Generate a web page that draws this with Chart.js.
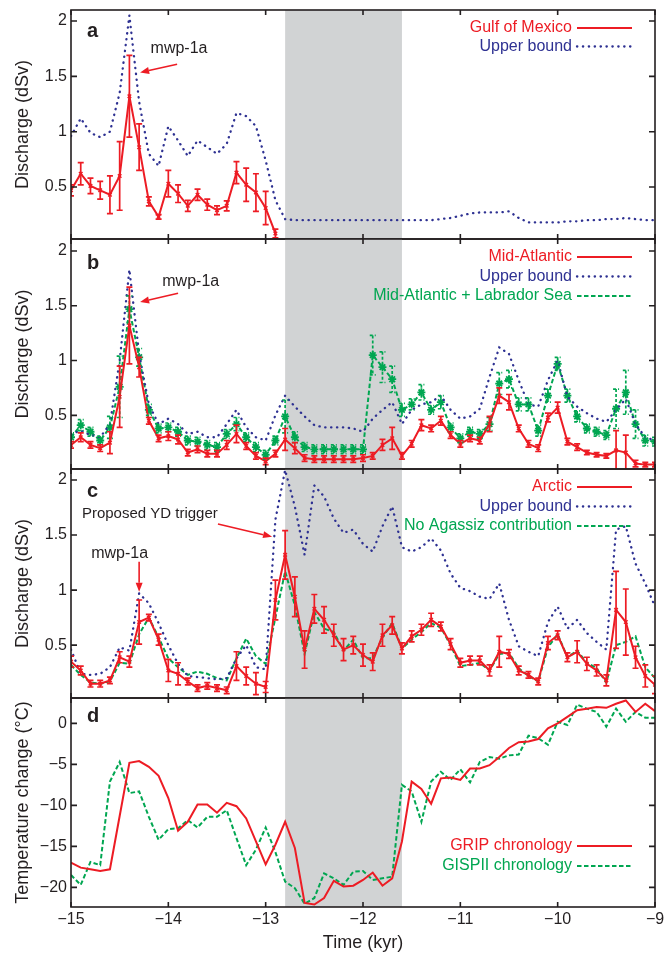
<!DOCTYPE html>
<html>
<head>
<meta charset="utf-8">
<script src="https://cdn.jsdelivr.net/npm/chart.js@4.4.1/dist/chart.umd.min.js"></script>
<style>
  body { margin: 0; background: #fff; }
  #wrap { position: relative; width: 665px; height: 955px; }
  canvas { position: absolute; left: 0; }
</style>
</head>
<body>
<div id="wrap">
  <canvas id="panelA" width="665" height="249" style="top:0px"></canvas>
  <canvas id="panelB" width="665" height="250" style="top:229px"></canvas>
  <canvas id="panelC" width="665" height="249" style="top:459px"></canvas>
  <canvas id="panelD" width="665" height="267" style="top:688px"></canvas>
</div>
<script>
// time axis (kyr), one value every 0.1 kyr
const years = [
  -15.0, -14.9, -14.8, -14.7, -14.6, -14.5, -14.4, -14.3, -14.2, -14.1,
  -14.0, -13.9, -13.8, -13.7, -13.6, -13.5, -13.4, -13.3, -13.2, -13.1,
  -13.0, -12.9, -12.8, -12.7, -12.6, -12.5, -12.4, -12.3, -12.2, -12.1,
  -12.0, -11.9, -11.8, -11.7, -11.6, -11.5, -11.4, -11.3, -11.2, -11.1,
  -11.0, -10.9, -10.8, -10.7, -10.6, -10.5, -10.4, -10.3, -10.2, -10.1,
  -10.0, -9.9, -9.8, -9.7, -9.6, -9.5, -9.4, -9.3, -9.2, -9.1,
  -9.0
];
const xTicks = [-15, -14, -13, -12, -11, -10, -9];
const dischargeTicks = [0.5, 1, 1.5, 2];
const tempTicks = [0, -5, -10, -15, -20];
const ydBand = [-12.8, -11.6];

// panel a: Gulf of Mexico
const aGulf = [
  0.47, 0.62, 0.51, 0.47, 0.43, 0.60, 1.32, 0.86, 0.37, 0.23,
  0.53, 0.44, 0.33, 0.43, 0.34, 0.29, 0.33, 0.63, 0.52, 0.45,
  0.31, 0.08
];
const aGulfErr = [
  0.05, 0.10, 0.07, 0.08, 0.17, 0.31, 0.37, 0.21, 0.04, 0.02,
  0.12, 0.08, 0.05, 0.05, 0.05, 0.04, 0.045, 0.10, 0.15, 0.17,
  0.15, 0.04
];
const aUpper = [
  0.96, 1.12, 0.99, 0.95, 1.00, 1.35, 2.05, 1.27, 0.80, 0.69,
  1.05, 0.92, 0.78, 0.92, 0.86, 0.80, 0.89, 1.17, 1.14, 1.05,
  0.74, 0.38, 0.21, 0.20, 0.20, 0.20, 0.20, 0.20, 0.20, 0.20,
  0.20, 0.20, 0.20, 0.20, 0.20, 0.20, 0.20, 0.20, 0.21, 0.22,
  0.24, 0.26, 0.27, 0.27, 0.27, 0.28, 0.22, 0.18, 0.18, 0.18,
  0.18, 0.19, 0.19, 0.20, 0.20, 0.21, 0.21, 0.22, 0.21, 0.20,
  0.20
];

// panel b: Mid-Atlantic
const bRed = [
  0.23, 0.30, 0.23, 0.20, 0.25, 0.67, 1.32, 0.94, 0.45, 0.29,
  0.31, 0.28, 0.16, 0.19, 0.15, 0.15, 0.23, 0.33, 0.22, 0.13,
  0.08, 0.15, 0.28, 0.20, 0.11, 0.10, 0.10, 0.10, 0.10, 0.10,
  0.11, 0.13, 0.23, 0.29, 0.13, 0.24, 0.41, 0.38, 0.45, 0.32,
  0.24, 0.29, 0.27, 0.42, 0.68, 0.62, 0.38, 0.24, 0.20, 0.48,
  0.57, 0.26, 0.21, 0.16, 0.14, 0.13, 0.18, 0.16, 0.06, 0.05,
  0.05
];
const bRedErr = [
  0.03, 0.04, 0.03, 0.03, 0.10, 0.28, 0.35, 0.09, 0.03, 0.03,
  0.04, 0.04, 0.03, 0.03, 0.03, 0.03, 0.04, 0.08, 0.03, 0.03,
  0.03, 0.03, 0.10, 0.05, 0.03, 0.03, 0.03, 0.03, 0.03, 0.03,
  0.03, 0.03, 0.05, 0.10, 0.03, 0.03, 0.05, 0.03, 0.04, 0.03,
  0.03, 0.03, 0.03, 0.07, 0.07, 0.07, 0.03, 0.03, 0.03, 0.04,
  0.05, 0.03, 0.03, 0.02, 0.02, 0.02, 0.18, 0.16, 0.03, 0.02,
  0.02
];
const bUpper = [
  0.33, 0.36, 0.32, 0.30, 0.42, 1.00, 1.83, 1.06, 0.60, 0.42,
  0.47, 0.42, 0.33, 0.35, 0.30, 0.30, 0.42, 0.55, 0.39, 0.30,
  0.27, 0.50, 0.68, 0.58, 0.49, 0.41, 0.39, 0.39, 0.39, 0.38,
  0.35, 0.47, 0.55, 0.62, 0.42, 0.55, 0.60, 0.62, 0.68, 0.55,
  0.47, 0.49, 0.56, 0.85, 1.12, 1.06, 0.82, 0.60, 0.58, 0.82,
  1.00, 0.67, 0.58, 0.52, 0.47, 0.44, 0.55, 0.65, 0.42, 0.30,
  0.27
];
const bGreen = [
  0.30, 0.41, 0.35, 0.27, 0.39, 0.76, 1.47, 1.03, 0.55, 0.38,
  0.39, 0.35, 0.27, 0.26, 0.23, 0.21, 0.33, 0.42, 0.30, 0.21,
  0.14, 0.27, 0.49, 0.30, 0.21, 0.19, 0.19, 0.19, 0.19, 0.19,
  0.19, 1.05, 0.94, 0.83, 0.55, 0.60, 0.71, 0.55, 0.62, 0.39,
  0.29, 0.35, 0.33, 0.42, 0.79, 0.83, 0.60, 0.60, 0.36, 0.68,
  0.97, 0.68, 0.49, 0.38, 0.35, 0.32, 0.56, 0.71, 0.42, 0.27,
  0.26
];
const bGreenErr = [
  0.04, 0.05, 0.04, 0.04, 0.10, 0.28, 0.12, 0.08, 0.05, 0.04,
  0.04, 0.04, 0.04, 0.04, 0.04, 0.04, 0.04, 0.06, 0.04, 0.04,
  0.04, 0.04, 0.15, 0.05, 0.04, 0.04, 0.04, 0.04, 0.04, 0.04,
  0.04, 0.18, 0.14, 0.12, 0.06, 0.05, 0.07, 0.04, 0.06, 0.04,
  0.04, 0.04, 0.04, 0.06, 0.10, 0.08, 0.06, 0.06, 0.05, 0.06,
  0.06, 0.06, 0.05, 0.04, 0.04, 0.04, 0.18, 0.20, 0.13, 0.05,
  0.04
];

// panel c: Arctic
const cRed = [
  0.35, 0.27, 0.15, 0.15, 0.18, 0.39, 0.35, 0.71, 0.75, 0.55,
  0.27, 0.24, 0.17, 0.11, 0.13, 0.11, 0.09, 0.31, 0.22, 0.15,
  0.12, 0.91, 1.32, 0.94, 0.46, 0.83, 0.73, 0.59, 0.46, 0.50,
  0.41, 0.35, 0.59, 0.68, 0.47, 0.58, 0.64, 0.73, 0.67, 0.51,
  0.34, 0.36, 0.36, 0.27, 0.44, 0.42, 0.27, 0.23, 0.17, 0.52,
  0.59, 0.39, 0.44, 0.33, 0.27, 0.18, 0.82, 0.71, 0.39, 0.22,
  0.14
];
const cRedErr = [
  0.05, 0.04, 0.03, 0.03, 0.03, 0.05, 0.05, 0.20, 0.03, 0.05,
  0.10, 0.10, 0.03, 0.03, 0.03, 0.03, 0.03, 0.13, 0.08, 0.10,
  0.05, 0.18, 0.22, 0.18, 0.17, 0.13, 0.12, 0.10, 0.10, 0.08,
  0.10, 0.08, 0.10, 0.08, 0.05, 0.05, 0.05, 0.06, 0.04, 0.05,
  0.04, 0.04, 0.04, 0.05, 0.14, 0.04, 0.04, 0.03, 0.03, 0.06,
  0.04, 0.04, 0.10, 0.06, 0.05, 0.05, 0.35, 0.30, 0.10, 0.10,
  0.08
];
const cUpper = [
  0.46, 0.24, 0.23, 0.24, 0.30, 0.48, 0.45, 0.97, 0.88, 0.70,
  0.50, 0.33, 0.22, 0.21, 0.20, 0.19, 0.20, 0.38, 0.50, 0.30,
  0.28, 1.64, 2.09, 1.76, 1.32, 1.95, 1.85, 1.65, 1.52, 1.55,
  1.42, 1.35, 1.58, 1.76, 1.39, 1.35, 1.39, 1.47, 1.36, 1.15,
  1.02, 0.99, 0.94, 0.92, 1.06, 0.73, 0.49, 0.44, 0.40, 0.71,
  0.85, 0.65, 0.73, 0.61, 0.53, 0.46, 1.55, 1.58, 1.24, 1.06,
  0.85
];
const cGreen = [
  0.32, 0.23, 0.16, 0.15, 0.17, 0.34, 0.33, 0.60, 0.75, 0.57,
  0.38, 0.30, 0.23, 0.26, 0.24, 0.20, 0.18, 0.38, 0.56, 0.40,
  0.33, 0.75, 1.17, 0.86, 0.42, 0.80, 0.65, 0.62, 0.45, 0.55,
  0.38, 0.38, 0.57, 0.70, 0.47, 0.55, 0.62, 0.70, 0.66, 0.50,
  0.31, 0.32, 0.34, 0.27, 0.42, 0.43, 0.29, 0.22, 0.17, 0.48,
  0.60, 0.39, 0.45, 0.34, 0.29, 0.16, 0.50, 0.53, 0.58, 0.30,
  0.20
];

// panel d: temperature change
const dGrip = [
  -17.0, -17.6, -17.8, -18.0, -17.8, -11.3, -4.8, -4.6, -5.3, -6.4,
  -9.1, -13.1, -12.0, -9.9, -9.9, -10.9, -9.7, -10.1, -11.6, -14.4,
  -17.2, -14.8, -12.0, -15.2, -21.9, -22.1, -21.3, -19.2, -19.9, -19.8,
  -19.1, -18.2, -19.8, -18.9, -14.4, -7.1, -8.0, -9.8, -6.7, -6.6,
  -6.9, -5.5, -5.5, -5.1, -4.1, -3.0, -2.3, -2.2, -1.9, -0.6,
  0.0, 0.8, 1.6, 1.8, 2.0, 1.9, 2.4, 2.8, 1.4, 2.4,
  1.5
];
const dGisp = [
  -18.5, -19.7, -16.9, -17.3, -7.1, -4.7, -8.5, -8.3, -11.4, -14.2,
  -12.9, -12.8, -11.8, -12.7, -11.4, -11.4, -10.6, -14.0, -17.3, -15.4,
  -12.7, -15.7, -19.3, -20.1, -22.0, -21.3, -18.3, -18.9, -19.7, -18.1,
  -18.0, -19.1, -18.9, -18.7, -7.5, -8.3, -12.0, -7.1, -5.9, -6.9,
  -5.6, -7.2, -4.7, -4.1, -4.3, -3.9, -3.8, -1.5, -1.8, -2.6,
  0.2, -0.2, 2.3, 1.8, 1.4, -0.4, 1.8, 0.2, 1.4, 0.7,
  0.7
];

const RED = '#ed1c24', BLUE = '#2e3192', GREEN = '#00a651', BAND = '#d1d3d4', INK = '#231f20';
const DOTS = [0.3, 5.6], DASH = [4.5, 2.5];

Chart.defaults.font.family = "'Liberation Sans', Arial, sans-serif";
Chart.defaults.font.size = 16;
Chart.defaults.color = INK;

function pts(vals) {
  return vals.map((v, i) => ({ x: years[i], y: v }));
}
function fmt(v) {
  return v < 0 ? '\u2212' + Math.abs(v) : String(v);
}

function redSeries(label, vals, errs) {
  return {
    label, data: pts(vals), errors: errs,
    borderColor: RED, backgroundColor: RED, borderWidth: 2,
    pointStyle: 'crossRot', pointRadius: 2.5, pointBorderWidth: 1.5, pointBorderColor: RED
  };
}
function upperSeries(vals) {
  return {
    label: 'Upper bound', data: pts(vals),
    borderColor: BLUE, borderWidth: 2.3, borderDash: DOTS, borderCapStyle: 'round', pointRadius: 0
  };
}
function greenSeries(label, vals, errs, marks) {
  return {
    label, data: pts(vals), errors: errs, errDash: [3, 2],
    borderColor: GREEN, backgroundColor: GREEN, borderWidth: 2, borderDash: DASH,
    pointStyle: 'star', pointRadius: marks ? 4 : 0, pointBorderWidth: 1.8, pointBorderColor: GREEN
  };
}

function arrow(ctx, x0, y0, x1, y1) {
  const ang = Math.atan2(y1 - y0, x1 - x0), L = 9, W = 3.5;
  const bx = x1 - L * Math.cos(ang), by = y1 - L * Math.sin(ang);
  ctx.beginPath(); ctx.moveTo(x0, y0); ctx.lineTo(bx, by); ctx.stroke();
  ctx.beginPath(); ctx.moveTo(x1, y1);
  ctx.lineTo(bx + W * Math.sin(ang), by - W * Math.cos(ang));
  ctx.lineTo(bx - W * Math.sin(ang), by + W * Math.cos(ang));
  ctx.closePath(); ctx.fill();
}

// band, error bars, frame with inward ticks, panel letter, legend and notes
function panelPlugin(cfg) {
  return {
    id: 'panel',
    beforeDatasetsDraw(chart) {
      const { ctx, chartArea: a, scales: { x } } = chart;
      const x0 = x.getPixelForValue(ydBand[0]), x1 = x.getPixelForValue(ydBand[1]);
      ctx.save();
      ctx.fillStyle = BAND;
      ctx.fillRect(x0, a.top, x1 - x0, a.bottom - a.top);
      ctx.restore();
    },
    afterDatasetsDraw(chart) {
      const { ctx, chartArea: a, scales: { x, y } } = chart;
      ctx.save();
      ctx.beginPath(); ctx.rect(a.left, a.top, a.right - a.left, a.bottom - a.top); ctx.clip();
      chart.data.datasets.slice().reverse().forEach(ds => {
        if (!ds.errors) return;
        ctx.strokeStyle = ds.borderColor;
        ctx.lineWidth = 1.7;
        ctx.setLineDash(ds.errDash || []);
        ds.data.forEach((p, i) => {
          const e = ds.errors[i];
          if (p.y == null || !e) return;
          const px = x.getPixelForValue(p.x);
          const yt = y.getPixelForValue(p.y + e), yb = y.getPixelForValue(p.y - e);
          ctx.beginPath();
          ctx.moveTo(px, yt); ctx.lineTo(px, yb);
          ctx.moveTo(px - 3, yt); ctx.lineTo(px + 3, yt);
          ctx.moveTo(px - 3, yb); ctx.lineTo(px + 3, yb);
          ctx.stroke();
        });
      });
      ctx.restore();

      // annotations
      ctx.save();
      ctx.strokeStyle = RED;
      ctx.lineWidth = 1.6;
      (cfg.notes || []).forEach(n => {
        ctx.fillStyle = INK;
        ctx.font = (n.size || 16) + "px 'Liberation Sans', Arial, sans-serif";
        ctx.textAlign = 'center'; ctx.textBaseline = 'middle';
        ctx.fillText(n.text, x.getPixelForValue(n.at[0]), y.getPixelForValue(n.at[1]));
        ctx.fillStyle = RED;
        arrow(ctx, x.getPixelForValue(n.from[0]), y.getPixelForValue(n.from[1]),
          x.getPixelForValue(n.to[0]), y.getPixelForValue(n.to[1]));
      });
      ctx.restore();
    },
    afterDraw(chart) {
      const { ctx, chartArea: a, scales: { x, y } } = chart;
      ctx.save();
      ctx.strokeStyle = INK;
      ctx.lineWidth = 1.6;
      ctx.strokeRect(a.left, a.top, a.right - a.left, a.bottom - a.top);
      ctx.beginPath();
      y.ticks.forEach(t => {
        const py = y.getPixelForValue(t.value);
        ctx.moveTo(a.left, py); ctx.lineTo(a.left + 6, py);
        ctx.moveTo(a.right - 6, py); ctx.lineTo(a.right, py);
      });
      xTicks.forEach(v => {
        const px = x.getPixelForValue(v);
        ctx.moveTo(px, a.top); ctx.lineTo(px, a.top + 5);
        ctx.moveTo(px, a.bottom - 5); ctx.lineTo(px, a.bottom);
      });
      ctx.stroke();

      // panel letter
      ctx.fillStyle = INK;
      ctx.font = "bold 20px 'Liberation Sans', Arial, sans-serif";
      ctx.textAlign = 'left'; ctx.textBaseline = 'alphabetic';
      ctx.fillText(cfg.letter, a.left + 16, a.top + cfg.letterY);

      // legend: text right-aligned, line sample on the right
      ctx.font = "16px 'Liberation Sans', Arial, sans-serif";
      ctx.textAlign = 'right'; ctx.textBaseline = 'middle';
      chart.data.datasets.forEach((ds, i) => {
        const ly = a.top + cfg.legendTop + i * cfg.legendStep;
        ctx.fillStyle = ds.borderColor;
        ctx.fillText(ds.label, a.right - 83, ly);
        ctx.strokeStyle = ds.borderColor;
        ctx.lineWidth = ds.borderWidth;
        ctx.lineCap = ds.borderCapStyle || 'butt';
        ctx.setLineDash(ds.borderDash || []);
        ctx.beginPath(); ctx.moveTo(a.right - 78, ly); ctx.lineTo(a.right - 23, ly); ctx.stroke();
      });
      ctx.restore();
    }
  };
}

function makeChart(id, datasets, yMin, yMax, yTicks, yTitle, cfg, bottom) {
  return new Chart(document.getElementById(id), {
    type: 'line',
    data: { datasets },
    options: {
      responsive: false,
      animation: false,
      layout: { padding: { top: 10, bottom: bottom ? 0 : 10, left: 0, right: 10 } },
      elements: { line: { tension: 0 } },
      plugins: { legend: { display: false }, tooltip: { enabled: false } },
      scales: {
        x: {
          type: 'linear', min: -15, max: -9, display: bottom,
          afterBuildTicks: s => { s.ticks = xTicks.map(v => ({ value: v })); },
          afterFit: s => {
            s.height = bottom ? 48 : 0;
            s.paddingLeft = 0; s.paddingRight = 0;
          },
          grid: { display: false, drawTicks: false },
          border: { display: false },
          ticks: { padding: 3, maxRotation: 0, autoSkip: false, callback: v => fmt(v) },
          title: { display: true, text: 'Time (kyr)', font: { size: 18 }, padding: { top: 0, bottom: 1 } }
        },
        y: {
          type: 'linear', min: yMin, max: yMax,
          afterBuildTicks: s => { s.ticks = yTicks.map(v => ({ value: v })); },
          afterFit: s => { s.width = 71; s.paddingTop = 0; s.paddingBottom = 0; },
          grid: { display: false, drawTicks: false },
          border: { display: false },
          ticks: { padding: 4, callback: v => fmt(v) },
          title: { display: true, text: yTitle, font: { size: 18 }, padding: { top: 12, bottom: 0 } }
        }
      }
    },
    plugins: [panelPlugin(cfg)]
  });
}

makeChart('panelA', [
  redSeries('Gulf of Mexico', aGulf, aGulfErr),
  upperSeries(aUpper)
], 0.03, 2.1, dischargeTicks, 'Discharge (dSv)', {
  letter: 'a', letterY: 27, legendTop: 18, legendStep: 18.5,
  notes: [{ text: 'mwp-1a', at: [-13.89, 1.75], from: [-13.91, 1.61], to: [-14.29, 1.535] }]
}, false);

makeChart('panelB', [
  redSeries('Mid-Atlantic', bRed, bRedErr),
  upperSeries(bUpper),
  greenSeries('Mid-Atlantic + Labrador Sea', bGreen, bGreenErr, true)
], 0.01, 2.11, dischargeTicks, 'Discharge (dSv)', {
  letter: 'b', letterY: 30, legendTop: 18, legendStep: 19.5,
  notes: [{ text: 'mwp-1a', at: [-13.77, 1.72], from: [-13.9, 1.614], to: [-14.29, 1.535] }]
}, false);

makeChart('panelC', [
  redSeries('Arctic', cRed, cRedErr),
  upperSeries(cUpper),
  greenSeries('No Agassiz contribution', cGreen, null, false)
], 0.02, 2.1, dischargeTicks, 'Discharge (dSv)', {
  letter: 'c', letterY: 28, legendTop: 18, legendStep: 19.5,
  notes: [
    { text: 'Proposed YD trigger', size: 15, at: [-14.19, 1.69], from: [-13.49, 1.6], to: [-12.934, 1.485] },
    { text: 'mwp-1a', at: [-14.5, 1.336], from: [-14.3, 1.257], to: [-14.3, 0.985] }
  ]
}, false);

makeChart('panelD', [
  { label: 'GRIP chronology', data: pts(dGrip), borderColor: RED, borderWidth: 2, pointRadius: 0 },
  { label: 'GISPII chronology', data: pts(dGisp), borderColor: GREEN, borderWidth: 2, borderDash: DASH, pointRadius: 0 }
], -22.4, 3.1, tempTicks, 'Temperature change (\u00b0C)', {
  letter: 'd', letterY: 24, legendTop: 148, legendStep: 20
}, true);
</script>
</body>
</html>
